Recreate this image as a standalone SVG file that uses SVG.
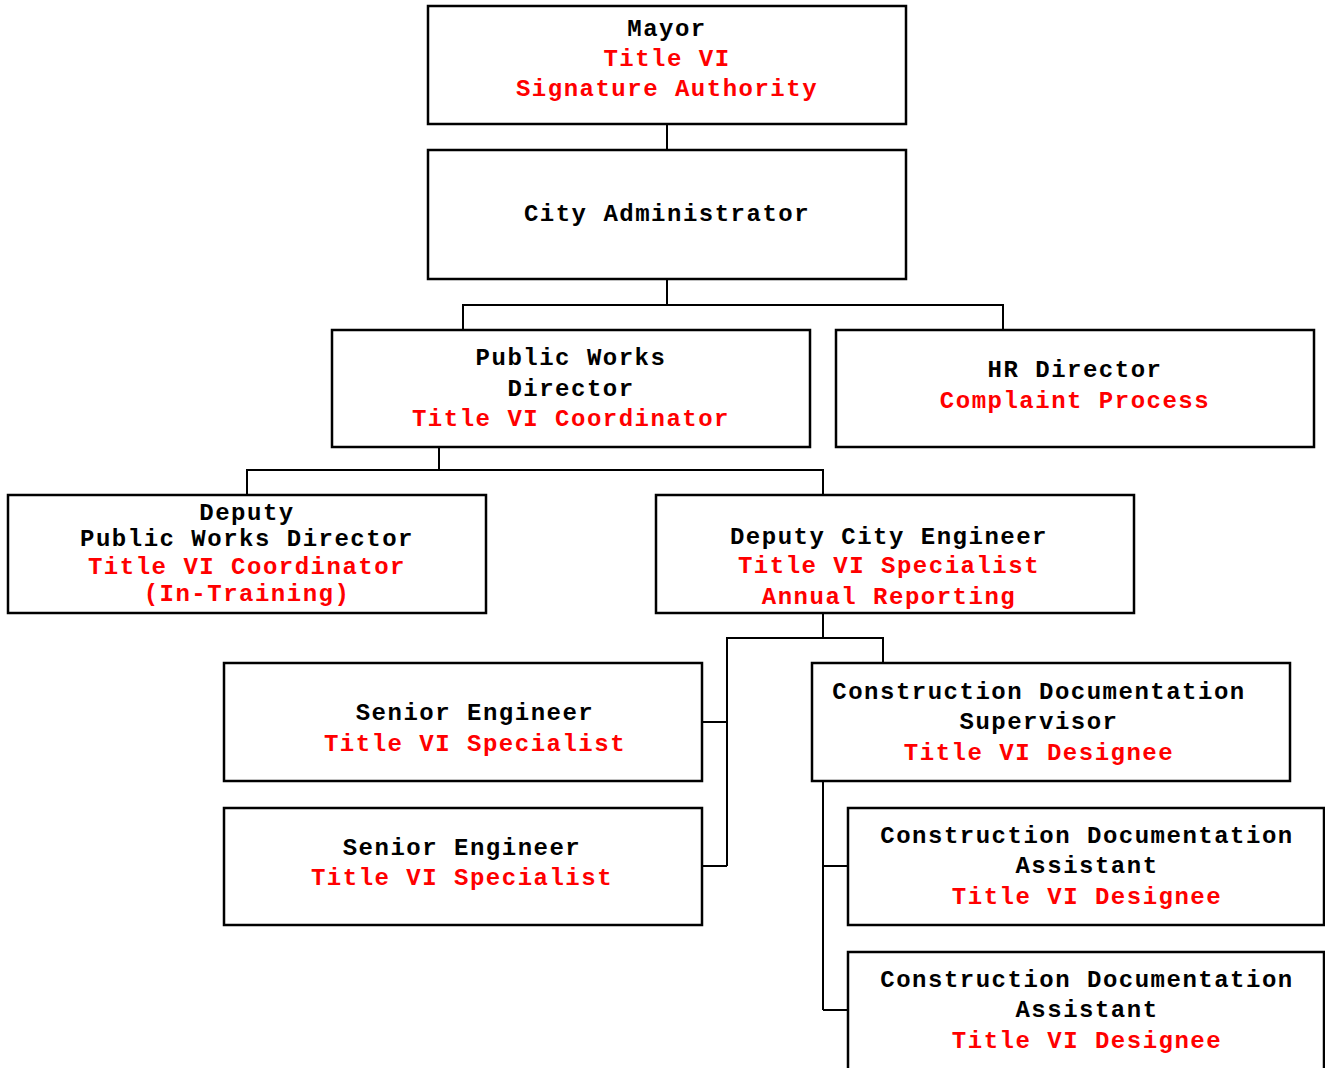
<svg xmlns="http://www.w3.org/2000/svg" width="1325" height="1068" viewBox="0 0 1325 1068">
<style>
rect{fill:#fff;stroke:#000;stroke-width:2.5}
text{font-family:"Liberation Mono","Courier New",monospace;font-weight:bold;font-size:24px;letter-spacing:1.5px;text-anchor:middle}
.k{fill:#000}
.r{fill:#f00}
#connectors path{fill:none;stroke:#000;stroke-width:2}
</style>
<rect x="0" y="0" width="1325" height="1068" style="stroke:none"/>
<g id="connectors">
<path d="M667 124V150"/>
<path d="M667 279V305M463 330V305H1003V330"/>
<path d="M439 447V470M247 495V470H823V495"/>
<path d="M823 613V638M727 866V638H883V663M702 722H727M702 866H727"/>
<path d="M823 781V1010M823 866H848M823 1010H848"/>
</g>
<g id="mayor">
<rect x="428" y="6" width="478" height="118"/>
<text x="667" y="36" class="k">Mayor</text>
<text x="667" y="66" class="r">Title VI</text>
<text x="667" y="96" class="r">Signature Authority</text>
</g>
<g id="city-admin">
<rect x="428" y="150" width="478" height="129"/>
<text x="667" y="221" class="k">City Administrator</text>
</g>
<g id="pw-director">
<rect x="332" y="330" width="478" height="117"/>
<text x="571" y="365" class="k">Public Works</text>
<text x="571" y="396" class="k">Director</text>
<text x="571" y="426" class="r">Title VI Coordinator</text>
</g>
<g id="hr-director">
<rect x="836" y="330" width="478" height="117"/>
<text x="1075" y="377" class="k">HR Director</text>
<text x="1075" y="408" class="r">Complaint Process</text>
</g>
<g id="deputy-pwd">
<rect x="8" y="495" width="478" height="118"/>
<text x="247" y="520" class="k">Deputy</text>
<text x="247" y="546" class="k">Public Works Director</text>
<text x="247" y="574" class="r">Title VI Coordinator</text>
<text x="247" y="601" class="r">(In-Training)</text>
</g>
<g id="deputy-city-engineer">
<rect x="656" y="495" width="478" height="118"/>
<text x="889" y="544" class="k">Deputy City Engineer</text>
<text x="889" y="573" class="r">Title VI Specialist</text>
<text x="889" y="604" class="r">Annual Reporting</text>
</g>
<g id="senior-engineer-1">
<rect x="224" y="663" width="478" height="118"/>
<text x="475" y="720" class="k">Senior Engineer</text>
<text x="475" y="751" class="r">Title VI Specialist</text>
</g>
<g id="senior-engineer-2">
<rect x="224" y="808" width="478" height="117"/>
<text x="462" y="855" class="k">Senior Engineer</text>
<text x="462" y="885" class="r">Title VI Specialist</text>
</g>
<g id="cd-supervisor">
<rect x="812" y="663" width="478" height="118"/>
<text x="1039" y="699" class="k">Construction Documentation</text>
<text x="1039" y="729" class="k">Supervisor</text>
<text x="1039" y="760" class="r">Title VI Designee</text>
</g>
<g id="cd-assistant-1">
<rect x="848" y="808" width="476" height="117"/>
<text x="1087" y="843" class="k">Construction Documentation</text>
<text x="1087" y="873" class="k">Assistant</text>
<text x="1087" y="904" class="r">Title VI Designee</text>
</g>
<g id="cd-assistant-2">
<rect x="848" y="952" width="476" height="125"/>
<text x="1087" y="987" class="k">Construction Documentation</text>
<text x="1087" y="1017" class="k">Assistant</text>
<text x="1087" y="1048" class="r">Title VI Designee</text>
</g>
</svg>
